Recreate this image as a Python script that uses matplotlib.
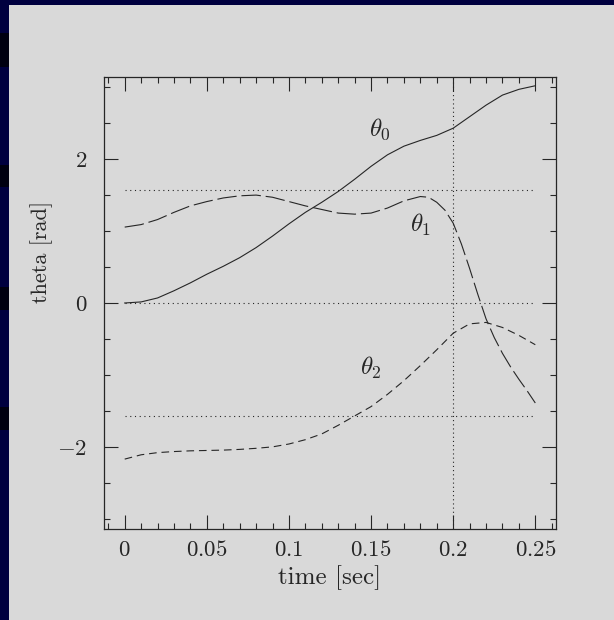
import matplotlib
matplotlib.use("Agg")
import matplotlib.pyplot as plt
from matplotlib.patches import Rectangle
import numpy as np

plt.rcParams['font.family'] = ['cmr10', 'DejaVu Serif']
plt.rcParams['mathtext.fontset'] = 'cm'
plt.rcParams['axes.formatter.use_mathtext'] = True
plt.rcParams['lines.scale_dashes'] = False

# values
t_a = [0, 0.01, 0.02, 0.03, 0.04, 0.05, 0.06, 0.07, 0.08, 0.09, 0.10, 0.11, 0.12,
       0.13, 0.14, 0.15, 0.16, 0.17, 0.18, 0.19, 0.20, 0.21, 0.22, 0.23, 0.24, 0.25]
theta0 = [0, 0.015, 0.07, 0.17, 0.28, 0.40, 0.51, 0.63, 0.77, 0.93, 1.10, 1.26, 1.40,
          1.55, 1.72, 1.90, 2.06, 2.18, 2.26, 2.33, 2.43, 2.59, 2.75, 2.89, 2.97, 3.02]
theta2 = [-2.17, -2.11, -2.08, -2.065, -2.055, -2.05, -2.045, -2.035, -2.02, -2.00,
          -1.96, -1.90, -1.82, -1.70, -1.57, -1.44, -1.27, -1.08, -0.87, -0.65,
          -0.42, -0.29, -0.27, -0.34, -0.45, -0.58]

t_b = [0, 0.01, 0.02, 0.03, 0.04, 0.05, 0.06, 0.07, 0.08, 0.09, 0.10, 0.11, 0.12,
       0.13, 0.14, 0.15, 0.16, 0.17, 0.18, 0.185, 0.19, 0.195, 0.20, 0.205, 0.21,
       0.215, 0.22, 0.225, 0.23, 0.235, 0.24, 0.245, 0.25]
theta1 = [1.055, 1.09, 1.16, 1.26, 1.35, 1.41, 1.46, 1.49, 1.50, 1.47, 1.41, 1.35, 1.30,
          1.25, 1.235, 1.25, 1.32, 1.42, 1.48, 1.47, 1.40, 1.29, 1.11, 0.82, 0.48,
          0.12, -0.22, -0.48, -0.70, -0.89, -1.06, -1.22, -1.39]

ref_levels = [np.pi / 2, 0, -np.pi / 2]
t_mark = 0.2

xticks = [0, 0.05, 0.1, 0.15, 0.2, 0.25]
xticklabels = ['$0$', '$0.05$', '$0.1$', '$0.15$', '$0.2$', '$0.25$']
yticks = [-2, 0, 2]
yticklabels = ['$-2$', '$0$', '$2$']

navy = '#00003f'
panel = '#d9d9d9'
ink = '#262626'

fig = plt.figure(figsize=(6.14, 6.20), dpi=100, facecolor=navy)
fig.patches.append(Rectangle((9 / 614, 0), 1, 615 / 620, transform=fig.transFigure,
                             facecolor=panel, edgecolor='none', zorder=-2))
for y0, y1 in [(33, 67), (165, 187), (287, 310), (407, 430)]:
    fig.patches.append(Rectangle((0, 1 - y1 / 620), 9 / 614, (y1 - y0) / 620,
                                 transform=fig.transFigure, facecolor='#000010',
                                 edgecolor='none', zorder=-2))

ax = fig.add_axes([104 / 614, 1 - 529 / 620, 452 / 614, 452 / 620])
ax.set_zorder(1)
ax.set_facecolor(panel)

for lv in ref_levels:
    ax.plot([0, 0.25], [lv, lv], color=ink, lw=0.8, dashes=(0.8, 2.6))
ax.axvline(t_mark, color=ink, lw=0.8, dashes=(0.8, 2.2))

ax.plot(t_a, theta0, color=ink, lw=0.8)
ax.plot(t_b, theta1, color=ink, lw=0.8, dashes=(14, 3.5))
ax.plot(t_a, theta2, color=ink, lw=0.8, dashes=(5.5, 3.5))

ax.text(0.1485, 2.41, r'$\theta_0$', fontsize=18, color=ink, va='center', ha='left')
ax.text(0.1740, 1.09, r'$\theta_1$', fontsize=18, color=ink, va='center', ha='left')
ax.text(0.1430, -0.90, r'$\theta_2$', fontsize=18, color=ink, va='center', ha='left')

ax.set_xlim(-0.0126, 0.2626)
ax.set_ylim(-np.pi, np.pi)

ax.set_xticks(xticks)
ax.set_xticklabels(xticklabels)
ax.set_xticks(np.arange(-0.01, 0.261, 0.01), minor=True)
ax.set_yticks(yticks)
ax.set_yticklabels(yticklabels)
ax.set_yticks(np.arange(-3, 3.01, 0.5), minor=True)

ax.tick_params(which='both', direction='in', top=True, right=True, colors=ink,
               width=0.8, labelsize=16.5, labelcolor=ink)
ax.tick_params(which='major', length=10)
ax.tick_params(which='minor', length=4.5)
ax.tick_params(axis='x', pad=8)
ax.tick_params(axis='y', pad=12)
for s in ax.spines.values():
    s.set_color(ink)
    s.set_linewidth(0.9)

ax.set_xlabel('time [sec]', fontsize=18, color=ink)
ax.set_ylabel('theta [rad]', fontsize=16, color=ink)
ax.xaxis.set_label_coords(0.5, -0.08)
ax.yaxis.set_label_coords(-0.113, 0.613)

fig.savefig('out.png', dpi=100, facecolor=navy)
